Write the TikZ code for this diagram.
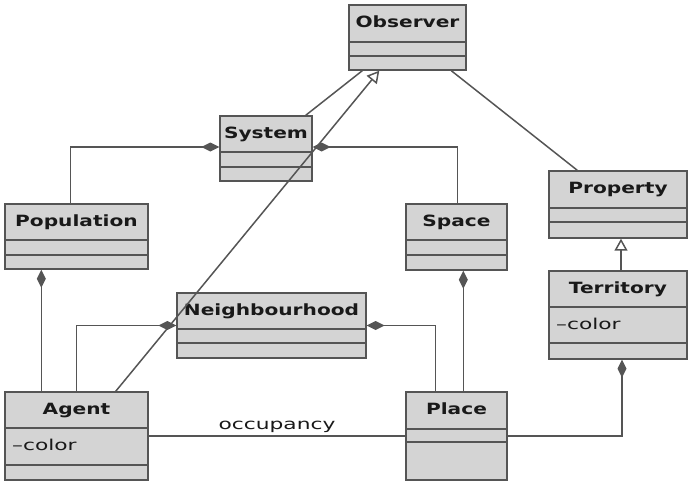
\documentclass[tikz,border=0pt]{standalone}
\usepackage{fontspec}
\setmainfont{DejaVu Sans}[FakeStretch=1.45]
\newfontfamily\namefont{DejaVu Sans}[FakeStretch=1.3]
\usetikzlibrary{arrows.meta,fit}

\definecolor{boxfill}{HTML}{D4D4D4}
\definecolor{boxline}{HTML}{555555}

\tikzset{
    classbox/.style={draw=boxline, fill=boxfill, line width=1.4pt, inner sep=0pt},
    classline/.style={draw=boxline, line width=1.4pt},
    classname/.style={font=\fontsize{15.5}{18}\namefont\bfseries, text=black!90, inner sep=0pt, anchor=base},
    classattr/.style={font=\fontsize{15}{18}\selectfont, text=black!90, inner sep=0pt},
    assoc/.style={draw=boxline, line width=1.5pt},
    compose/.style={assoc, -{Diamond[length=18pt, width=9pt]}},
    inherit/.style={assoc, -{Triangle[open, length=12pt, width=13pt]}}
}

% id, left, top, right, first line, second line, bottom, title
\newcommand{\umlclass}[8]{%
    \node[classbox, fit={(#2,#3) (#4,#7)}] (#1) {};
    \draw[classline] (#2,#5) -- (#4,#5) (#2,#6) -- (#4,#6);
    \node[classname] (#1-name) at ({(#2+#4)/2},#3+22) {#8};
}

\begin{document}
\begin{tikzpicture}[x=1pt, y=-1pt]
        \useasboundingbox (0,0) rectangle (688,483);

        \umlclass{observer}{349}{5}{466}{42}{56}{70}{Observer}
        \umlclass{system}{220}{116}{312}{152}{167}{181}{System}
        \umlclass{population}{5}{204}{148}{240}{255}{269}{Population}
        \umlclass{space}{406}{204}{507}{240}{255}{270}{Space}
        \umlclass{property}{549}{171}{687}{208}{222}{238}{Property}
        \umlclass{territory}{549}{271}{687}{307}{343}{359}{Territory}
        \umlclass{neighbourhood}{177}{293}{366}{329}{343}{358}{Neighbourhood}
        \umlclass{agent}{5}{392}{148}{428}{465}{480}{Agent}
        \umlclass{place}{406}{392}{507}{429}{442}{480}{Place}

        \node[classattr, anchor=base west] (agent-color) at (12,450) {–color};
        \node[classattr, anchor=base west] (territory-color) at (556,329) {–color};

        \draw[assoc] ([xshift=-7pt]system.north east) -- ([xshift=14pt]observer.south west);
        \draw[assoc] ([xshift=103pt]observer.south west) -- ([xshift=29pt]property.north west);
        \draw[inherit] ([xshift=-33pt]agent.north east) -- ([xshift=31pt]observer.south west);
        \draw[inherit] ([xshift=3pt]territory.north) -- ([xshift=3pt]property.south);

        \draw[compose] ([xshift=66pt]population.north west) |- ([yshift=1.5pt]system.west);
        \draw[compose] ([xshift=52pt]space.north west) |- ([yshift=1.5pt]system.east);
        \draw[compose] ([xshift=37pt]agent.north west) -- ([xshift=37pt]population.south west);
        \draw[compose] ([xshift=58pt]place.north west) -- ([xshift=58pt]space.south west);
        \draw[compose] ([xshift=72pt]agent.north west) |- (neighbourhood.west);
        \draw[compose] ([xshift=30pt]place.north west) |- (neighbourhood.east);
        \draw[compose] (place.east) -| ([xshift=4pt]territory.south);

        \draw[assoc] (agent) -- (place) node[midway, above=3pt, classattr] (occupancy) {occupancy};
\end{tikzpicture}
\end{document}
